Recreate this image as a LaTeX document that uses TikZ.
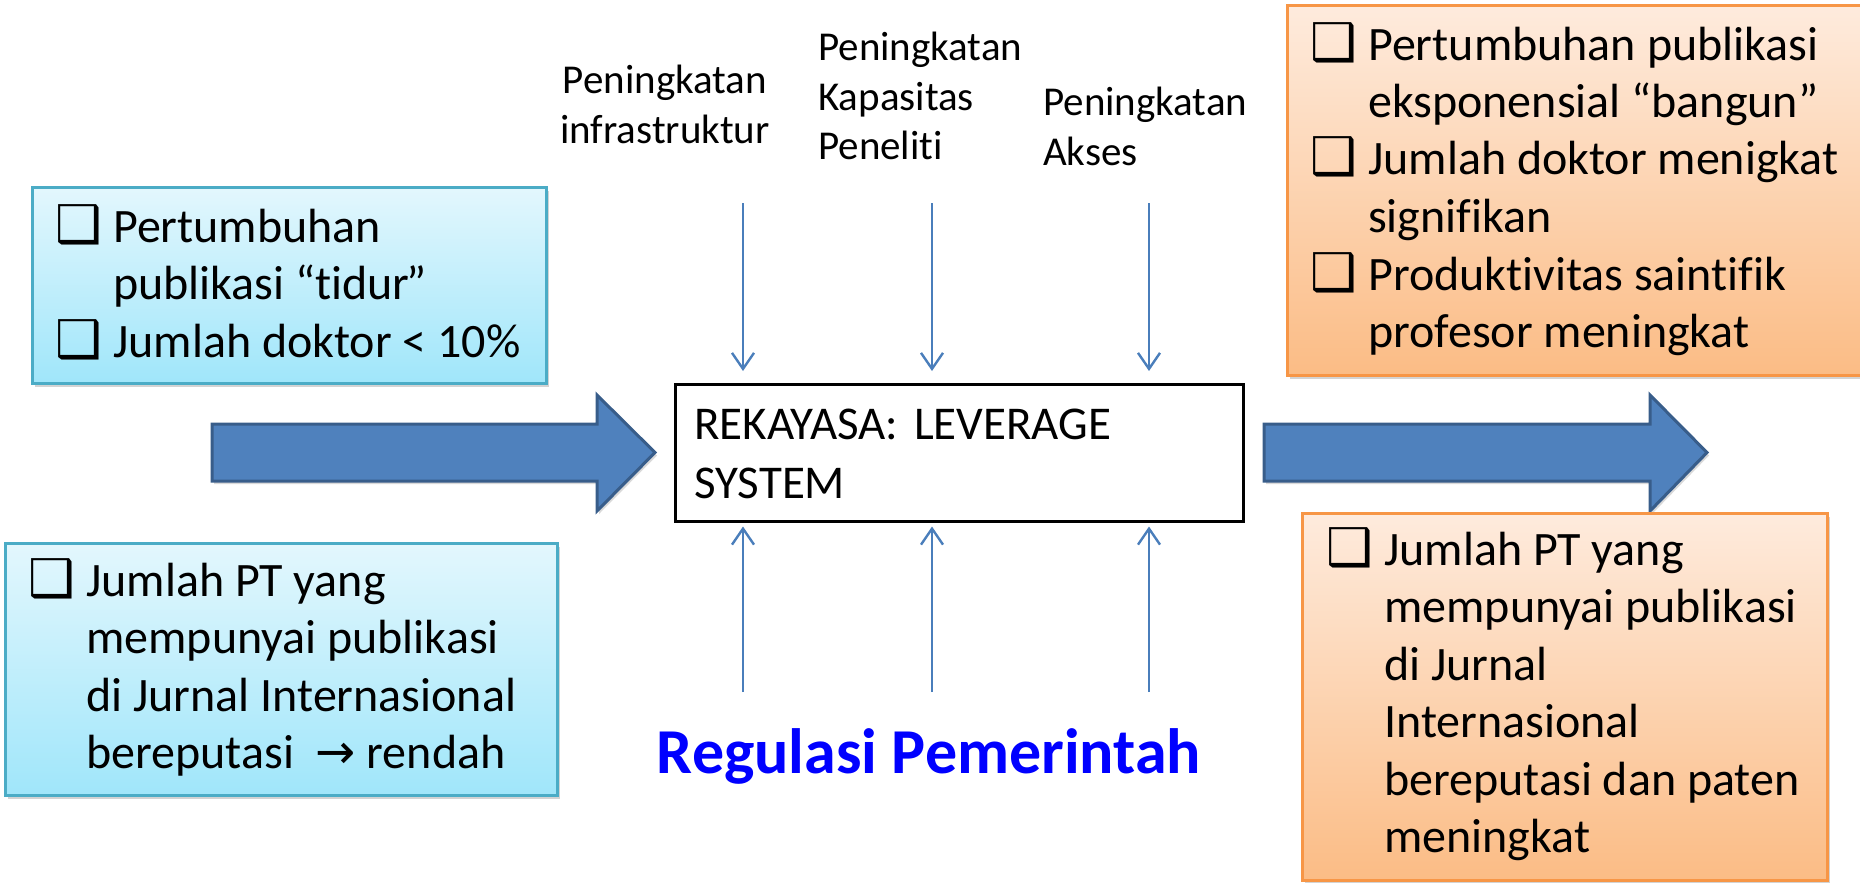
\documentclass[tikz,border=0pt]{standalone}
\usepackage{fontspec}
\setmainfont{Carlito}[Ligatures={NoCommon}]
\newfontfamily\symfont{DejaVu Sans}
\usetikzlibrary{arrows.meta,shadows}
\definecolor{bluetop}{HTML}{E3F7FD}
\definecolor{bluebot}{HTML}{A0E6FA}
\definecolor{blueedge}{HTML}{4BACC6}
\definecolor{orgtop}{HTML}{FEEBDD}
\definecolor{orgbot}{HTML}{FBBC85}
\definecolor{orgedge}{HTML}{F79646}
\definecolor{arrfill}{HTML}{4F81BD}
\definecolor{arredge}{HTML}{385D8A}
\definecolor{thinblue}{HTML}{4A7EBB}
\definecolor{regblue}{HTML}{0000FF}
\newlength\bulind
\setlength\bulind{58pt}
\newcommand\mybul{\makebox[\bulind][l]{\smash{\symfont\fontsize{52}{52}\selectfont ❑}}}
\tikzset{
  bluebox/.style={draw=blueedge, line width=3pt, top color=bluetop, bottom color=bluebot,
    drop shadow={shadow xshift=3pt, shadow yshift=-4pt, opacity=0.35},
    anchor=north west, inner sep=0pt, outer sep=0pt},
  orangebox/.style={draw=orgedge, line width=3pt, top color=orgtop, bottom color=orgbot,
    drop shadow={shadow xshift=3pt, shadow yshift=-4pt, opacity=0.35},
    anchor=north west, inner sep=0pt, outer sep=0pt},
  boxtext/.style={anchor=base west, inner sep=0pt, font=\fontsize{48}{57.5}\selectfont},
  toplabel/.style={inner sep=0pt, text width=#1, font=\fontsize{41}{50}\selectfont},
  thinarrow/.style={draw=thinblue, line width=2.4pt, -{Straight Barb[length=16pt,width=22pt]}},
  bigarrow/.style={fill=arrfill, draw=arredge, line width=3pt, line join=miter,
    drop shadow={shadow xshift=2pt, shadow yshift=-3pt, opacity=0.3}},
  centerbox/.style={draw=black, line width=2.5pt, fill=white, anchor=north west, inner sep=0pt}
}
\begin{document}
\begin{tikzpicture}[x=1pt,y=-1pt]
\useasboundingbox (0,0) rectangle (1860,883);

% big arrows
\filldraw[bigarrow] (212,424) -- (597,424) -- (597,395) -- (655,452.5) -- (597,511) -- (597,481) -- (212,481) -- cycle;
\filldraw[bigarrow] (1264,424) -- (1650,424) -- (1650,395) -- (1707,452.5) -- (1650,511) -- (1650,481) -- (1264,481) -- cycle;

% boxes
\node[bluebox, minimum width=514pt, minimum height=196pt] (lt) at (32,187) {};
\node[bluebox, minimum width=552pt, minimum height=252pt] (lb) at (5,543) {};
\node[orangebox, minimum width=574pt, minimum height=369pt] (rt) at (1287,6) {};
\node[orangebox, minimum width=525pt, minimum height=367pt] (rb) at (1302,513) {};
\node[centerbox, minimum width=568pt, minimum height=137pt] (c) at (674,383) {};

% box texts
\node[boxtext] (ltt) at (55,242) {\begin{tabular}[t]{@{}l@{}l@{}}
\mybul & Pertumbuhan\\
 & publikasi “tidur\kern-3pt”\\
\mybul & Jumlah doktor < 10\%
\end{tabular}};
\node[boxtext] (lbt) at (28,596) {\begin{tabular}[t]{@{}l@{}l@{}}
\mybul & Jumlah PT yang\\
 & mempunyai publikasi\\
 & di Jurnal Internasional\\
 & bereputasi\ \ {\symfont →} rendah
\end{tabular}};
\node[boxtext] (rtt) at (1310,60) {\begin{tabular}[t]{@{}l@{}l@{}}
\mybul & Pertumbuhan publikasi\\
 & eksponensial “bangun”\\
\mybul & Jumlah doktor menigkat\\
 & signifikan\\
\mybul & Produktivitas saintifik\\
 & profesor meningkat
\end{tabular}};
\node[boxtext] (rbt) at (1326,565) {\begin{tabular}[t]{@{}l@{}l@{}}
\mybul & Jumlah PT yang\\
 & mempunyai publikasi\\
 & di Jurnal\\
 & Internasional\\
 & bereputasi dan paten\\
 & meningkat
\end{tabular}};
\node[anchor=base west, inner sep=0pt, text width=540pt, font=\fontsize{47}{59}\selectfont] (ct) at (694,439) {REKAYASA:\ LEVERAGE\\SYSTEM\par};

% top labels
\node[toplabel=260pt, anchor=base] (l1) at (665,93) {\centering Peningkatan\\infrastruktur\par};
\node[toplabel=220pt, anchor=base west] (l2) at (818,60) {Peningkatan\\Kapasitas\\Peneliti\par};
\node[toplabel=220pt, anchor=base west] (l3) at (1043,115) {Peningkatan\\Akses\par};

% regulation
\node[anchor=base, inner sep=0pt, text=regblue, font=\bfseries\fontsize{64}{70}\selectfont] (reg) at (929,773) {Regulasi Pemerintah};

% thin arrows
\coordinate (d1) at (743,203);
\coordinate (d2) at (932,203);
\coordinate (d3) at (1149,203);
\coordinate (u1) at (743,692);
\coordinate (u2) at (932,692);
\coordinate (u3) at (1149,692);
\foreach \n in {1,2,3}{
  \draw[thinarrow, shorten >=12pt] (d\n) -- (d\n |- c.north);
  \draw[thinarrow, shorten >=4pt] (u\n) -- (u\n |- c.south);
}
\end{tikzpicture}
\end{document}
